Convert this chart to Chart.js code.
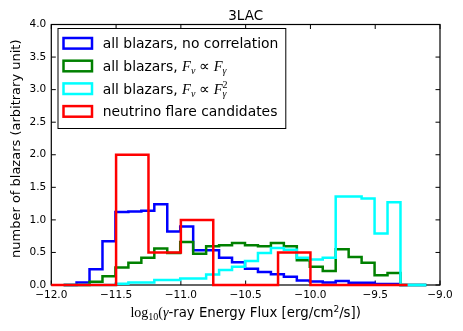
<!DOCTYPE html>
<html><head><meta charset="utf-8">
<script src="https://cdn.jsdelivr.net/npm/chart.js@4/dist/chart.umd.min.js"></script>
<style>html,body{margin:0;padding:0;background:#fff;}canvas{display:block;}</style>
</head><body>
<canvas id="c" width="463" height="331"></canvas>
<script>
// ---- data ----
const binLeftEdges = [-11.905,-11.805,-11.705,-11.605,-11.505,-11.405,-11.305,-11.205,-11.105,-11.005,
  -10.905,-10.805,-10.705,-10.605,-10.505,-10.405,-10.305,-10.205,-10.105,-10.005,
  -9.905,-9.805,-9.705,-9.605,-9.505,-9.405,-9.305,-9.205];
const binRightEnd = -9.105;
const noCorrelation = [0,0.04,0.24,0.67,1.12,1.13,1.14,1.24,0.82,0.90,
  0.535,0.535,0.42,0.35,0.25,0.20,0.165,0.125,0.07,0.055,
  0.04,0.06,0.035,0.035,0.015,0.015,0,0];
const linearFlux = [0,0,0.05,0.135,0.27,0.34,0.42,0.56,0.49,0.66,
  0.48,0.595,0.61,0.645,0.61,0.595,0.645,0.595,0.38,0.28,
  0.215,0.55,0.43,0.34,0.15,0.185,0,0];
const squaredFlux = [0,0,0,0,0.02,0.04,0.04,0.075,0.075,0.10,
  0.10,0.16,0.23,0.28,0.37,0.49,0.57,0.54,0.42,0.39,
  0.42,1.36,1.36,1.33,0.79,1.27,0,0];
const flareLeftEdges = [-12.0,-11.75,-11.5,-11.25,-11.0,-10.75,-10.5,-10.25,-10.0,-9.75,-9.5];
const flareRightEnd = -9.25;
const flareCandidates = [0,0,2.0,0.5,1.0,0,0,0.5,0,0,0];
const xTicks = [-12.0,-11.5,-11.0,-10.5,-10.0,-9.5,-9.0];
const yTicks = [0.0,0.5,1.0,1.5,2.0,2.5,3.0,3.5,4.0];
const seriesLabels = ['all blazars, no correlation','all blazars, ','all blazars, ','neutrino flare candidates'];
const titleText = '3LAC';

function stepPoints(edges, end, vals){
  const pts=[{x:edges[0],y:0}];
  edges.forEach((e,i)=>pts.push({x:e,y:vals[i]}));
  pts.push({x:end,y:0});
  return pts;
}
const SANS='"DejaVu Sans"';
const SERIF='"Liberation Serif"';
const fmt = v => (v<0?'\u2212':'') + Math.abs(v).toFixed(1);

function drawRuns(ctx, x, y, runs, align){
  let w=0;
  runs.forEach(r=>{ctx.font=r.f; r.w=ctx.measureText(r.t).width; if(!r.stack) w+=r.w;});
  let cx = align==='center' ? x-w/2 : x;
  runs.forEach(r=>{ctx.font=r.f; ctx.fillText(r.t,cx,y+(r.dy||0)); if(!r.stack) cx+=r.w;});
}

const deco = {
  id:'deco',
  beforeDatasetsDraw(chart){
    const {ctx, chartArea:a, scales:{x,y}} = chart;
    ctx.save();
    ctx.strokeStyle='#000'; ctx.lineWidth=1.2;
    ctx.strokeRect(a.left,a.top,a.right-a.left,a.bottom-a.top);
    ctx.lineWidth=1;
    ctx.beginPath();
    xTicks.forEach(t=>{const px=x.getPixelForValue(t);
      ctx.moveTo(px,a.bottom); ctx.lineTo(px,a.bottom-4.5);
      ctx.moveTo(px,a.top); ctx.lineTo(px,a.top+4.5);});
    yTicks.forEach(t=>{const py=y.getPixelForValue(t);
      ctx.moveTo(a.left,py); ctx.lineTo(a.left+4.5,py);
      ctx.moveTo(a.right,py); ctx.lineTo(a.right-4.5,py);});
    ctx.stroke();
    ctx.restore();
  },
  afterDatasetsDraw(chart){
    const {ctx, chartArea:a} = chart;
    ctx.save();
    ctx.fillStyle='#000'; ctx.textBaseline='alphabetic';
    // title
    ctx.font='13.5px '+SANS; ctx.textAlign='center';
    ctx.fillText(titleText,(a.left+a.right)/2,20);
    ctx.textAlign='left';
    // x label
    const cxm=(a.left+a.right)/2;
    drawRuns(ctx,cxm,317,[
      {t:'log',f:'14px '+SERIF},
      {t:'10',f:'10px '+SERIF,dy:3},
      {t:'(',f:'14px '+SERIF},
      {t:'\u03b3',f:'italic 14px '+SERIF},
      {t:'-ray Energy Flux [erg/cm',f:'13.3px '+SANS},
      {t:'2',f:'9px '+SANS,dy:-5},
      {t:'/s])',f:'13.3px '+SANS}
    ],'center');
    // y label
    ctx.save();
    ctx.translate(20,(a.top+a.bottom)/2-6);
    ctx.rotate(-Math.PI/2);
    ctx.font='13px '+SANS; ctx.textAlign='center';
    ctx.fillText('number of blazars (arbitrary unit)',0,0);
    ctx.restore();
    // legend
    const L=57.5,T=28,R=285.3,B=128;
    ctx.fillStyle='#fff'; ctx.fillRect(L,T,R-L,B-T);
    ctx.strokeStyle='#000'; ctx.lineWidth=1; ctx.strokeRect(L+0.5,T+0.5,R-L,B-T);
    const rows=[43.3,66,88.7,111.4];
    const cols=chart.data.datasets.map(d=>d.borderColor);
    rows.forEach((cy,i)=>{
      ctx.strokeStyle=cols[i]; ctx.lineWidth=2.5;
      ctx.strokeRect(63.5,cy-5.3,28.5,10.6);
    });
    ctx.fillStyle='#000'; ctx.textAlign='left';
    const tf='13.9px '+SANS, mi='italic 14.5px '+SERIF, ms='italic 10px '+SERIF, mr='14.5px '+SERIF;
    drawRuns(ctx,102.7,rows[0]+5,[{t:seriesLabels[0],f:tf}]);
    drawRuns(ctx,102.7,rows[1]+5,[{t:seriesLabels[1],f:tf},{t:'F',f:mi},{t:'\u03bd',f:ms,dy:3},
      {t:' \u221d ',f:mr},{t:'F',f:mi},{t:'\u03b3',f:ms,dy:3}]);
    drawRuns(ctx,102.7,rows[2]+5,[{t:seriesLabels[2],f:tf},{t:'F',f:mi},{t:'\u03bd',f:ms,dy:3},
      {t:' \u221d ',f:mr},{t:'F',f:mi},{t:'2',f:'10px '+SERIF,dy:-6,stack:true},{t:'\u03b3',f:ms,dy:3}]);
    drawRuns(ctx,102.7,rows[3]+5,[{t:seriesLabels[3],f:tf}]);
    ctx.restore();
  }
};

const common = {pointRadius:0, borderWidth:2.5, stepped:'before', fill:false, tension:0,
  borderJoinStyle:'miter', borderCapStyle:'butt', clip:6};

new Chart(document.getElementById('c'),{
  type:'line',
  data:{datasets:[
    Object.assign({label:'no correlation',data:stepPoints(binLeftEdges,binRightEnd,noCorrelation),borderColor:'#0000ff',order:3},common),
    Object.assign({label:'Fnu ~ Fgamma',data:stepPoints(binLeftEdges,binRightEnd,linearFlux),borderColor:'#008000',order:2},common),
    Object.assign({label:'Fnu ~ Fgamma^2',data:stepPoints(binLeftEdges,binRightEnd,squaredFlux),borderColor:'#00ffff',order:1},common),
    Object.assign({label:'neutrino flare candidates',data:stepPoints(flareLeftEdges,flareRightEnd,flareCandidates),borderColor:'#ff0000',order:0},common)
  ]},
  options:{
    responsive:false, animation:false, devicePixelRatio:1,
    layout:{padding:{left:0,right:23,top:24.5,bottom:0}},
    plugins:{legend:{display:false},title:{display:false},tooltip:{enabled:false}},
    scales:{
      x:{type:'linear',min:-12,max:-9,
        afterBuildTicks:s=>{s.ticks=xTicks.map(v=>({value:v}));},
        ticks:{callback:fmt,color:'#000',font:{family:'DejaVu Sans',size:10.5},padding:4,maxRotation:0,autoSkip:false},
        grid:{display:false,drawTicks:false},border:{display:false},
        afterFit:s=>{s.height=46;}},
      y:{type:'linear',min:0,max:4,
        afterBuildTicks:s=>{s.ticks=yTicks.map(v=>({value:v}));},
        ticks:{callback:fmt,color:'#000',font:{family:'DejaVu Sans',size:10.5},padding:5,autoSkip:false},
        grid:{display:false,drawTicks:false},border:{display:false},
        afterFit:s=>{s.width=51.3;}}
    }
  },
  plugins:[deco]
});
</script>
</body></html>
